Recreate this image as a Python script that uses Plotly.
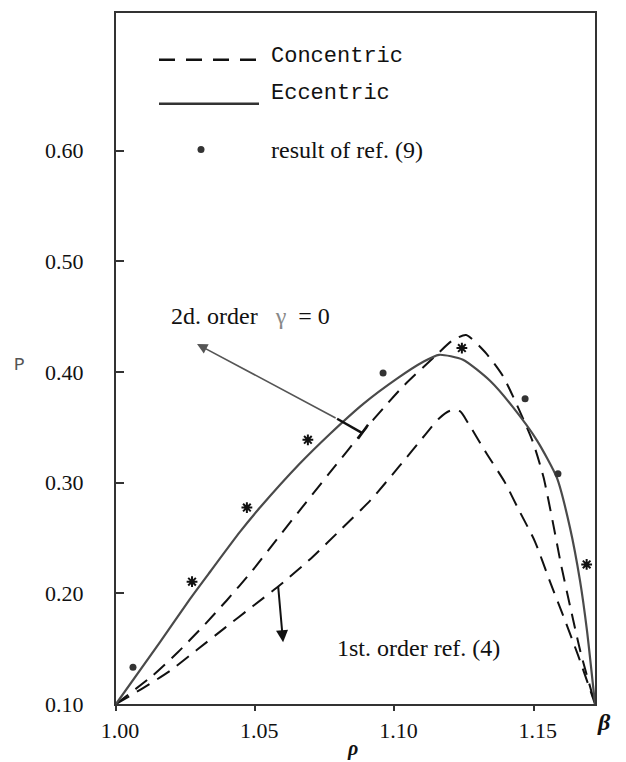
import plotly.graph_objects as go

# ---------------- data ----------------
ecc_x = [1.0, 1.0158, 1.0266, 1.0338, 1.0445, 1.0517, 1.0661, 1.0768, 1.0887, 1.1009,
         1.1102, 1.1160, 1.1246, 1.1343, 1.1426, 1.1512, 1.1583, 1.1630, 1.1666, 1.1691, 1.172]
ecc_y = [0.10, 0.156, 0.195, 0.2195, 0.2555, 0.2775, 0.3175, 0.344, 0.371, 0.394,
         0.409, 0.4155, 0.411, 0.392, 0.368, 0.338, 0.3045, 0.2595, 0.2117, 0.1667, 0.10]

con2_x = [1.0, 1.0133, 1.0223, 1.0312, 1.0399, 1.0488, 1.0578, 1.0682, 1.0790, 1.0880,
          1.0973, 1.1031, 1.1153, 1.1206, 1.1257, 1.1325, 1.1390, 1.1495, 1.1535, 1.1568,
          1.1598, 1.1630, 1.1668, 1.172]
con2_y = [0.10, 0.126, 0.147, 0.170, 0.194, 0.220, 0.249, 0.282, 0.316, 0.344,
          0.371, 0.387, 0.416, 0.428, 0.4333, 0.418, 0.396, 0.338, 0.305, 0.265,
          0.226, 0.189, 0.147, 0.10]

con1_x = [1.0, 1.0097, 1.0190, 1.0291, 1.0391, 1.0492, 1.0589, 1.0704, 1.0811, 1.0916,
          1.1016, 1.1110, 1.1160, 1.1200, 1.1235, 1.1264, 1.1329, 1.1397, 1.1443, 1.1504,
          1.1558, 1.1612, 1.1659, 1.172]
con1_y = [0.10, 0.1144, 0.1292, 0.1490, 0.1688, 0.1885, 0.2075, 0.2324, 0.2586, 0.2847,
          0.3144, 0.3432, 0.3580, 0.3650, 0.3645, 0.3540, 0.327, 0.300, 0.277, 0.247,
          0.2108, 0.1757, 0.1441, 0.10]

star_x = [1.0273, 1.0470, 1.0689, 1.1242, 1.1690]
star_y = [0.2105, 0.2775, 0.3387, 0.4216, 0.2261]

dot_x = [1.0061, 1.0959, 1.1469, 1.1587]
dot_y = [0.1333, 0.3991, 0.3757, 0.3081]

x_ticks = [1.00, 1.05, 1.10, 1.15]
x_tick_text = ["1.00", "1.05", "1.10", "1.15"]
y_ticks = [0.10, 0.20, 0.30, 0.40, 0.50, 0.60]
y_tick_text = ["0.10", "0.20", "0.30", "0.40", "0.50", "0.60"]

# annotation arrows: (head_x, head_y, tail_x, tail_y)
arrow_2nd = (1.0291, 0.4252, 1.0794, 0.3577)
arrow_1st = (1.0600, 0.1559, 1.0582, 0.2072)
bar_2nd = [(1.0794, 0.3577, 1.0883, 0.3450), (1.0869, 0.3396, 1.0905, 0.3523)]

# ---------------- layout geometry ----------------
W, H = 626, 762
L, R, T, B = 116, 31, 11, 58
PW, PH = W - L - R, H - T - B


def px(x):
    return (x - L) / PW


def py(y):
    return (H - B - y) / PH


SERIF = "Liberation Serif"
MONO = "Liberation Mono"
INK = "#111111"
SM = 0.6

fig = go.Figure()

fig.add_trace(go.Scatter(x=con1_x, y=con1_y, mode="lines",
                         line=dict(color="#111", width=2, dash="15px,9px", shape="spline", smoothing=SM),
                         name="1st order concentric", showlegend=False))
fig.add_trace(go.Scatter(x=con2_x, y=con2_y, mode="lines",
                         line=dict(color="#111", width=2, dash="15px,9px", shape="spline", smoothing=SM),
                         name="Concentric", showlegend=False))
fig.add_trace(go.Scatter(x=ecc_x, y=ecc_y, mode="lines",
                         line=dict(color="#4a4a4a", width=2.2, shape="spline", smoothing=SM),
                         name="Eccentric", showlegend=False))
fig.add_trace(go.Scatter(x=star_x, y=star_y, mode="markers",
                         marker=dict(symbol="asterisk-open", size=9, color="#111",
                                     line=dict(width=2, color="#111")),
                         name="*", showlegend=False))
fig.add_trace(go.Scatter(x=dot_x, y=dot_y, mode="markers",
                         marker=dict(symbol="circle", size=7, color="#333"),
                         name="result of ref. (9)", showlegend=False))

shapes = []
# legend samples
shapes.append(dict(type="line", xref="paper", yref="paper", x0=px(159), x1=px(256), y0=py(58), y1=py(58),
                   line=dict(color="#111", width=2.5, dash="16px,11px")))
shapes.append(dict(type="line", xref="paper", yref="paper", x0=px(159), x1=px(259), y0=py(102), y1=py(102),
                   line=dict(color="#333", width=2.5)))
shapes.append(dict(type="circle", xref="paper", yref="paper", xsizemode="pixel", ysizemode="pixel",
                   xanchor=px(201), yanchor=py(148), x0=-3.5, x1=3.5, y0=-3.5, y1=3.5,
                   fillcolor="#333", line=dict(width=0)))
for (x0, y0, x1, y1) in bar_2nd:
    shapes.append(dict(type="line", xref="x", yref="y", x0=x0, y0=y0, x1=x1, y1=y1,
                       line=dict(color="#111", width=2.5)))

annotations = [
    dict(x=arrow_2nd[0], y=arrow_2nd[1], ax=arrow_2nd[2], ay=arrow_2nd[3], xref="x", yref="y",
         axref="x", ayref="y", showarrow=True, arrowhead=2, arrowsize=1.3, arrowwidth=1.6,
         arrowcolor="#555", text=""),
    dict(x=arrow_1st[0], y=arrow_1st[1], ax=arrow_1st[2], ay=arrow_1st[3], xref="x", yref="y",
         axref="x", ayref="y", showarrow=True, arrowhead=2, arrowsize=1.2, arrowwidth=2,
         arrowcolor="#111", text=""),
    dict(x=px(269), y=py(55), xref="paper", yref="paper", xanchor="left", yanchor="middle",
         text="Concentric", showarrow=False, font=dict(family=MONO, size=22, color=INK)),
    dict(x=px(269), y=py(92), xref="paper", yref="paper", xanchor="left", yanchor="middle",
         text="Eccentric", showarrow=False, font=dict(family=MONO, size=22, color=INK)),
    dict(x=px(269), y=py(148), xref="paper", yref="paper", xanchor="left", yanchor="middle",
         text="result of ref. (9)", showarrow=False, font=dict(family=SERIF, size=24, color=INK)),
    dict(x=px(169), y=py(315), xref="paper", yref="paper", xanchor="left", yanchor="middle",
         text="2d. order&nbsp;&nbsp;&nbsp;<span style='color:#888'>γ</span>&nbsp;&nbsp;=&nbsp;0", showarrow=False,
         font=dict(family=SERIF, size=24, color=INK)),
    dict(x=px(335), y=py(648), xref="paper", yref="paper", xanchor="left", yanchor="middle",
         text="1st. order ref. (4)", showarrow=False, font=dict(family=SERIF, size=24, color=INK)),
    dict(x=px(19), y=py(364), xref="paper", yref="paper", xanchor="center", yanchor="middle",
         text="P", showarrow=False, font=dict(family=MONO, size=18, color="#555")),
    dict(x=px(352), y=py(749), xref="paper", yref="paper", xanchor="center", yanchor="middle",
         text="<b><i>ρ</i></b>", showarrow=False, font=dict(family=SERIF, size=20, color=INK)),
    dict(x=px(604), y=py(722), xref="paper", yref="paper", xanchor="center", yanchor="middle",
         text="<b><i>β</i></b>", showarrow=False, font=dict(family=SERIF, size=24, color=INK)),
]

fig.update_layout(
    width=W, height=H,
    margin=dict(l=L, r=R, t=T, b=B),
    paper_bgcolor="white", plot_bgcolor="white",
    showlegend=False,
    shapes=shapes,
    annotations=annotations,
)
fig.update_xaxes(range=[1.0, 1.172], tickvals=x_ticks, ticktext=x_tick_text,
                 showgrid=False, zeroline=False, showline=True, mirror=True,
                 linecolor="#333", linewidth=2, ticks="outside", ticklen=5, tickwidth=2,
                 tickcolor="#333", ticklabelstandoff=1, ticklabelshift=4,
                 tickfont=dict(family=SERIF, size=22, color=INK))
fig.update_yaxes(range=[0.10, 0.7243], tickvals=y_ticks, ticktext=y_tick_text,
                 showgrid=False, zeroline=False, showline=True, mirror=True,
                 linecolor="#333", linewidth=2, ticks="inside", ticklen=8, tickwidth=2,
                 tickcolor="#333", ticklabelstandoff=26,
                 tickfont=dict(family=SERIF, size=22, color=INK))

fig.write_html("out.html")
